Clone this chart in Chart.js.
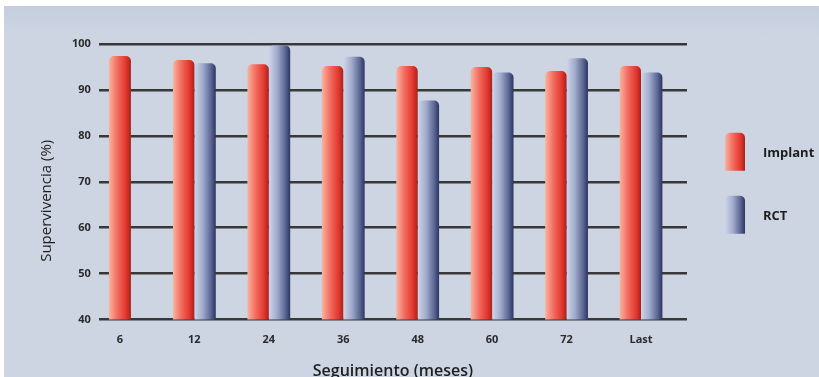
<!DOCTYPE html>
<html>
<head>
<meta charset="utf-8">
<script src="https://cdn.jsdelivr.net/npm/chart.js@4"></script>
<style>
  html, body { margin: 0; padding: 0; background: #fff; }
  #wrap { position: absolute; left: 4px; top: 6px; width: 815px; height: 371px; overflow: hidden;
          background: linear-gradient(#c5cedd 0px, #cdd5e3 30px, #cdd5e3 100%); }
  #chart { display: block; }
</style>
</head>
<body>
<div id="wrap"><canvas id="chart" width="815" height="385"></canvas></div>
<script>
// data
var months = ['6', '12', '24', '36', '48', '60', '72', 'Last'];
var implantValues = [97.4, 96.5, 95.6, 95.2, 95.2, 95.0, 94.1, 95.2];
var rctValues = [null, 95.8, 99.7, 97.2, 87.7, 93.8, 96.9, 93.8];
var yTicks = [40, 50, 60, 70, 80, 90, 100];
var yTitle = 'Supervivencia (%)';

var implantStops = ['#f9b4a0', '#f26a5e', '#e2372e', '#a5221c'];
var rctStops = ['#cfd5e8', '#a0aacb', '#5a6592', '#2b3560'];

// the groups sit a little left inside the gridded area, so x is an index axis
function toPoints(values) {
  return values.map(function(v, i) { return { x: i, y: v }; });
}

function cylGradient(ctx, left, width, stops) {
  var g = ctx.createLinearGradient(left, 0, left + width, 0);
  g.addColorStop(0, stops[0]);
  g.addColorStop(0.4, stops[1]);
  g.addColorStop(0.78, stops[2]);
  g.addColorStop(1, stops[3]);
  return g;
}

// paint each bar with a horizontal "cylinder" gradient once positions are known
var barShading = {
  id: 'barShading',
  beforeDatasetsDraw: function(chart) {
    var ctx = chart.ctx;
    chart.data.datasets.forEach(function(ds, i) {
      var meta = chart.getDatasetMeta(i);
      meta.data.forEach(function(bar) {
        if (bar.x == null || isNaN(bar.x)) return;
        bar.options.backgroundColor = cylGradient(ctx, bar.x - bar.width / 2, bar.width, ds.stops);
      });
    });
  }
};

// legend on the right + y title (sits a bit below the middle in the original)
var sideLegend = {
  id: 'sideLegend',
  afterDraw: function(chart) {
    var ctx = chart.ctx;
    var area = chart.chartArea;
    var bx = area.right + 38;
    var mid = (area.top + area.bottom) / 2;
    ctx.save();
    chart.data.datasets.forEach(function(ds, i) {
      var cy = mid - 30 + i * 63;
      var top = cy - 19;
      ctx.fillStyle = cylGradient(ctx, bx, 20, ds.stops);
      ctx.beginPath();
      ctx.roundRect(bx, top, 20, 38, [5, 5, 0, 0]);
      ctx.fill();
      ctx.fillStyle = '#1e1e1e';
      ctx.font = 'bold 13px "Open Sans"';
      ctx.textBaseline = 'middle';
      ctx.fillText(ds.label, bx + 38, cy + 1);
    });
    ctx.translate(43, mid + 19);
    ctx.rotate(-Math.PI / 2);
    ctx.textAlign = 'center';
    ctx.textBaseline = 'middle';
    ctx.font = '15px "Open Sans"';
    ctx.fillStyle = '#1e1e1e';
    ctx.fillText(yTitle, 0, 0);
    ctx.restore();
  }
};

new Chart(document.getElementById('chart'), {
  type: 'bar',
  data: {
    datasets: [
      { label: 'Implant', data: toPoints(implantValues), stops: implantStops, backgroundColor: function() { return '#e2372e'; } },
      { label: 'RCT', data: toPoints(rctValues), stops: rctStops, backgroundColor: function() { return '#5a6592'; } }
    ]
  },
  options: {
    responsive: false,
    animation: false,
    events: [],
    layout: { padding: { left: 60, right: 132, top: 38, bottom: 10 } },
    datasets: {
      bar: {
        categoryPercentage: 0.575,
        barPercentage: 1,
        maxBarThickness: 22,
        skipNull: true,
        borderRadius: { topLeft: 5, topRight: 5 },
        borderSkipped: 'bottom'
      }
    },
    plugins: {
      legend: { display: false },
      tooltip: { enabled: false }
    },
    scales: {
      x: {
        type: 'linear',
        offset: false,
        min: -0.283, max: 7.618,
        afterBuildTicks: function(axis) { axis.ticks = months.map(function(m, i) { return { value: i }; }); },
        grid: { display: false },
        border: { display: false },
        ticks: { color: '#2a2a2a', font: { family: 'Open Sans', size: 11, weight: 'bold' }, padding: 6,
                 callback: function(v) { return months[v]; } },
        title: { display: true, text: 'Seguimiento (meses)', color: '#1e1e1e',
                 font: { family: 'Open Sans', size: 16, weight: '600' }, padding: { top: 9, bottom: 0 } }
      },
      y: {
        min: 40, max: 100,
        afterBuildTicks: function(axis) { axis.ticks = yTicks.map(function(v) { return { value: v }; }); },
        grid: { color: '#383838', lineWidth: 2.5, drawTicks: false },
        border: { display: false },
        ticks: { color: '#2a2a2a', font: { family: 'Open Sans', size: 11, weight: 'bold' }, padding: 8 }
      }
    }
  },
  plugins: [barShading, sideLegend]
});
</script>
</body>
</html>
